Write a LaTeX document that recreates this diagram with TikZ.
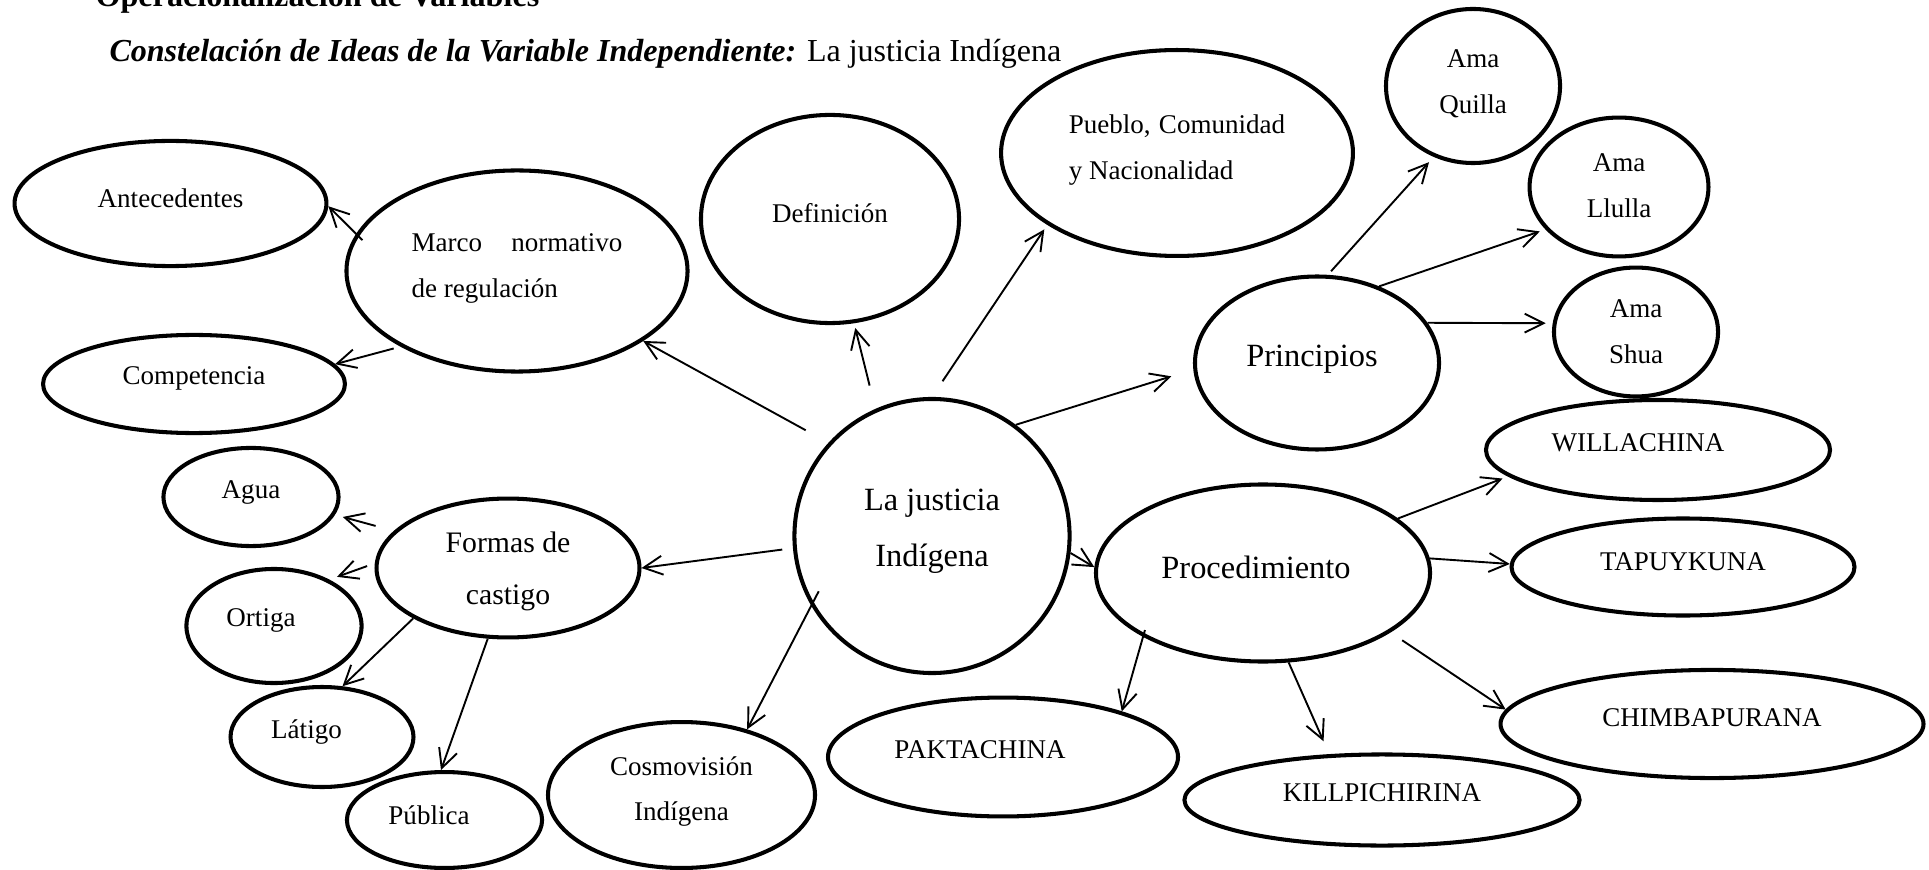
\documentclass[tikz,border=0pt]{standalone}
\usepackage{fontspec}
\setmainfont{Liberation Serif}
\usetikzlibrary{shapes.geometric,arrows.meta}
\tikzset{
 ell/.style={draw, ellipse, line width=1.5pt, inner sep=0pt},
 t10/.style={font=\fontsize{10}{17}\selectfont, align=center, inner sep=0pt},
 t11/.style={font=\fontsize{11}{19}\selectfont, align=center, inner sep=0pt},
 t12/.style={font=\fontsize{12}{20.7}\selectfont, align=center, inner sep=0pt},
 arr/.style={-{Straight Barb[length=7pt,width=7pt]}, line width=0.7pt},
}
\begin{document}
\begin{tikzpicture}[x=0.37pt,y=-0.37pt]
\useasboundingbox (0,0) rectangle (1929,870);
\node[anchor=base west, inner sep=0pt, font=\fontsize{11.9}{14}\selectfont\bfseries] (title) at (95,7) {Operacionalización de Variables};
\node[anchor=base west, inner sep=0pt, font=\fontsize{11.85}{14}\selectfont] (sub) at (109,62) {\textbf{\textit{Constelación de Ideas de la Variable Independiente:}} La justicia Indígena};

\node[ell, minimum width=115.4pt, minimum height=46.3pt, label={[t10,shift={(0,-5)}]center:Antecedentes}] (ant) at (170.5,203.5) {};
\node[ell, minimum width=126.2pt, minimum height=74.4pt, label={[t10,align=left,shift={(0,-3)}]center:{\makebox[78pt][s]{Marco normativo}\\de regulación}}] (marco) at (517,271) {};
\node[ell, minimum width=95.5pt, minimum height=77pt, label={[t10,shift={(0,-6)}]center:Definición}] (def) at (830,219) {};
\node[ell, minimum width=130.2pt, minimum height=76.2pt, label={[t10,align=left,shift={(0,-2.5)}]center:{\makebox[80pt][s]{Pueblo, Comunidad}\\y Nacionalidad}}] (pue) at (1177,153) {};
\node[ell, minimum width=111.7pt, minimum height=36.3pt, label={[t10,shift={(0,-6)}]center:Competencia}] (comp) at (194,384) {};
\node[ell, minimum width=64.4pt, minimum height=57pt, label={[t10,shift={(0,-2.5)}]center:{Ama\\Quilla}}] (aq) at (1473,86) {};
\node[ell, minimum width=66.2pt, minimum height=51.4pt, label={[t10,shift={(0,-1.5)}]center:{Ama\\Llulla}}] (al) at (1619,187) {};
\node[ell, minimum width=90.3pt, minimum height=64pt, label={[t12,shift={(-5,-4)}]center:Principios}] (pri) at (1317,363) {};
\node[ell, minimum width=60.7pt, minimum height=47.7pt, label={[t10]center:{Ama\\Shua}}] (ashua) at (1636,332) {};
\node[ell, minimum width=127.3pt, minimum height=37pt, label={[t10,shift={(-20,-7)}]center:WILLACHINA}] (wil) at (1658,450) {};
\node[ell, minimum width=126.9pt, minimum height=35.9pt, label={[t10,shift={(0,-5)}]center:TAPUYKUNA}] (tap) at (1683,567) {};
\node[ell, minimum width=123.6pt, minimum height=65.5pt, label={[t12,shift={(-7,-6)}]center:Procedimiento}] (proc) at (1263,573) {};
\node[ell, minimum width=156.5pt, minimum height=40pt, label={[t10,shift={(0,-6)}]center:CHIMBAPURANA}] (chi) at (1712,724) {};
\node[ell, minimum width=146.2pt, minimum height=33.7pt, label={[t10,shift={(0,-7)}]center:KILLPICHIRINA}] (kil) at (1382,800) {};
\node[ell, minimum width=129.5pt, minimum height=44pt, label={[t10,shift={(-23,-7)}]center:PAKTACHINA}] (pak) at (1003,757) {};
\node[ell, minimum width=101.8pt, minimum height=101.4pt, label={[t12,shift={(0,-5)}]center:{La justicia\\Indígena}}] (laj) at (932,536) {};
\node[ell, minimum width=97.3pt, minimum height=51.4pt, label={[t11,shift={(0,3.5)}]center:{Formas de\\castigo}}] (forma) at (508,568) {};
\node[ell, minimum width=64.8pt, minimum height=36.3pt, label={[t10,shift={(0,-5)}]center:Agua}] (agua) at (251,497) {};
\node[ell, minimum width=64.8pt, minimum height=42.2pt, label={[t10,shift={(-13,-6)}]center:Ortiga}] (ort) at (274,626) {};
\node[ell, minimum width=67.7pt, minimum height=37pt, label={[t10,shift={(-15.5,-5)}]center:Látigo}] (lat) at (322,737) {};
\node[ell, minimum width=72.2pt, minimum height=35.5pt, label={[t10,shift={(-15.5,-5)}]center:Pública}] (pub) at (444.5,820) {};
\node[ell, minimum width=98.8pt, minimum height=54pt, label={[t10,shift={(0,-3.5)}]center:{Cosmovisión\\Indígena}}] (cos) at (681.5,795) {};

\draw[arr, shorten <=9.6pt] (laj.138) -- (marco.-29);
\draw[arr, shorten <=8.9pt, shorten >=1.8pt] (laj.114) -- (def.-77);
\draw[arr, shorten <=7pt, shorten >=2pt] (laj.90) -- (pue.209);
\draw[arr, shorten >=8.5pt] (laj.53) -- (pri.183);
\draw[arr] (laj.-7) -- (proc.178);
\draw[arr, shorten <=4pt] (laj.185) -- (forma.0);
\draw[arr, shorten <=-6pt] (laj.210) -- (cos.45);
\draw[arr, shorten <=-3.3pt] (marco.167) -- (ant.-1);
\draw[arr, shorten <=2.6pt] (marco.213) -- (comp.8);
\draw[arr, shorten <=1.8pt, shorten >=2.6pt] (pri.83) -- (aq.241);
\draw[arr, shorten >=2.2pt] (pri.51) -- (al.210);
\draw[arr, shorten >=2.6pt] (pri.20) -- (ashua.174);
\draw[arr, shorten >=2.2pt] (proc.22) -- (wil.190);
\draw[arr] (proc.5) -- (tap.179);
\draw[arr, shorten <=-2.6pt] (proc.208) -- (pak.21);
\draw[arr, shorten >=5.2pt] (proc.-74) -- (kil.139);
\draw[arr, shorten <=5.2pt] (proc.-25) -- (chi.176);
\draw[arr, shorten <=7pt, shorten >=3pt] (forma.162) -- (agua.-12);
\draw[arr, shorten <=3pt, shorten >=3pt] (forma.178) -- (ort.40);
\draw[arr] (forma.208) -- (lat.68);
\draw[arr] (forma.254) -- (pub.94);
\end{tikzpicture}
\end{document}
